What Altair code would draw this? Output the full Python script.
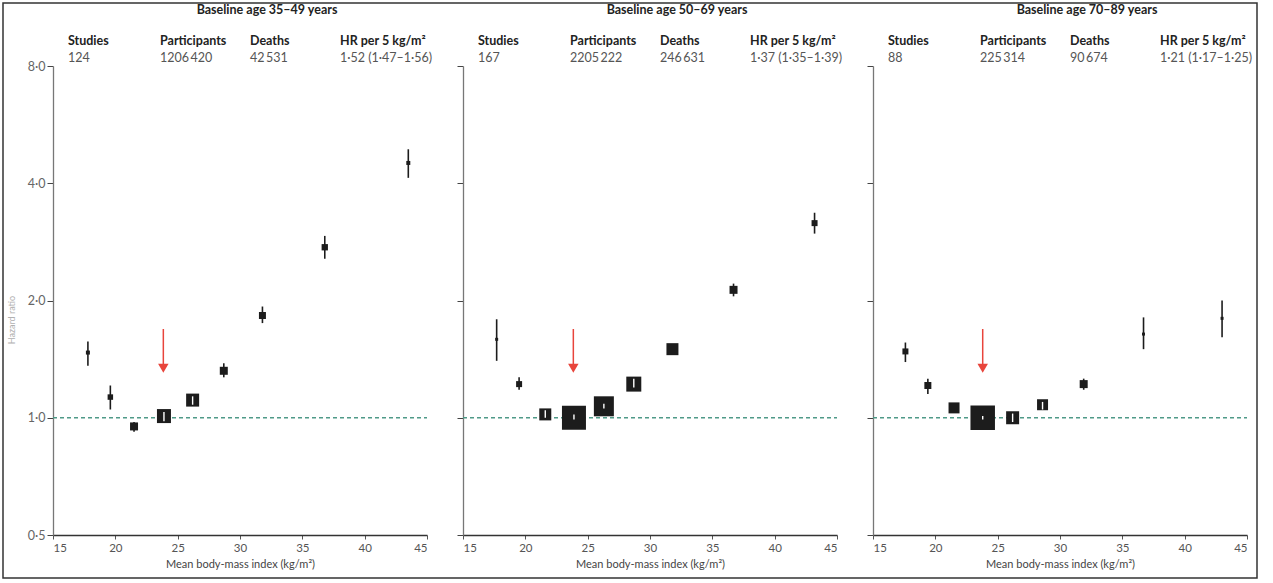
import altair as alt
import pandas as pd

# ---------------- data ----------------
titles = ["Baseline age 35\u201349 years", "Baseline age 50\u201369 years", "Baseline age 70\u201389 years"]
col_labels = ["Studies", "Participants", "Deaths", "HR per 5 kg/m\u00b2"]
studies = ["124", "167", "88"]
participants = ["1206\u2009420", "2205\u2009222", "225\u2009314"]
deaths = ["42\u2009531", "246\u2009631", "90\u2009674"]
hr_per5 = ["1\u00b752 (1\u00b747\u20131\u00b756)", "1\u00b737 (1\u00b735\u20131\u00b739)", "1\u00b721 (1\u00b717\u20131\u00b725)"]

bmi = [
    [17.8, 19.6, 21.5, 23.9, 26.2, 28.7, 31.8, 36.8, 43.5],
    [17.7, 19.5, 21.6, 23.9, 26.3, 28.7, 31.8, 36.7, 43.2],
    [17.6, 19.4, 21.5, 23.8, 26.2, 28.6, 31.9, 36.7, 43.0],
]
hr = [
    [1.47, 1.13, 0.95, 1.01, 1.11, 1.32, 1.83, 2.74, 4.51],
    [1.59, 1.22, 1.02, 1.00, 1.07, 1.22, 1.50, 2.13, 3.16],
    [1.48, 1.21, 1.06, 1.00, 1.00, 1.08, 1.22, 1.64, 1.80],
]
lo = [
    [1.36, 1.05, 0.92, 0.98, 1.08, 1.27, 1.75, 2.56, 4.13],
    [1.40, 1.18, 1.00, 0.99, 1.056, 1.195, 1.47, 2.05, 2.97],
    [1.39, 1.15, 1.04, 0.99, 0.975, 1.05, 1.18, 1.50, 1.61],
]
hi = [
    [1.57, 1.21, 0.975, 1.035, 1.135, 1.38, 1.93, 2.93, 4.89],
    [1.79, 1.27, 1.045, 1.02, 1.087, 1.26, 1.53, 2.21, 3.36],
    [1.56, 1.26, 1.08, 1.01, 1.025, 1.098, 1.26, 1.81, 2.00],
]
# relative statistical weight (drives square area)
weight = [
    [16, 30, 64, 196, 169, 64, 49, 40, 16],
    [9, 36, 144, 576, 400, 225, 144, 64, 36],
    [36, 49, 121, 600, 169, 121, 64, 9, 9],
]
# CI lies inside the square (drawn in white)
ci_inside = [
    [False, False, False, True, True, False, False, False, False],
    [False, False, True, True, True, True, False, False, False],
    [False, False, False, True, True, True, False, False, False],
]
arrow_bmi = [23.85, 23.85, 23.8]
arrow_top = [1.69, 1.69, 1.69]
arrow_head = [1.34, 1.34, 1.34]

# ---------------- style ----------------
W, H = 374, 469
FONT = "Lato"
RED = "#e8453c"
INK = "#1c1c1c"
col_x = [15, 107, 197, 287]

xscale = alt.Scale(domain=[15, 45], nice=False, zero=False)
yscale = alt.Scale(type="log", domain=[0.5, 8], nice=False)


def txt(s, x, y, bold=False, color="#222", size=12.5, align="left", angle=0):
    return alt.Chart(pd.DataFrame({"t": [s]})).mark_text(
        align=align, baseline="middle", fontSize=size,
        fontWeight="bold" if bold else "normal", color=color, font=FONT, angle=angle,
    ).encode(x=alt.value(x), y=alt.value(y), text="t:N")


def panel(i):
    df = pd.DataFrame({
        "bmi": bmi[i], "hr": hr[i], "lo": lo[i], "hi": hi[i],
        "w": weight[i], "inside": ci_inside[i],
    })
    xax = alt.Axis(values=[15, 20, 25, 30, 35, 40, 45], title="Mean body-mass index (kg/m\u00b2)",
                   grid=False, labelFontSize=11.5, labelColor="#555", labelFont=FONT,
                   titleFont=FONT, titleFontSize=11, titleFontWeight="normal", titleColor="#444",
                   titlePadding=5, tickSize=4, tickColor="#555", domainColor="#333",
                   domainWidth=1.6, labelPadding=3)
    yax = alt.Axis(values=[0.5, 1, 2, 4, 8], title=None, grid=False,
                   labels=(i == 0),
                   labelExpr="replace(format(datum.value, '.1f'), '.', '\u00b7')",
                   labelFontSize=12.5, labelColor="#666", labelFont=FONT,
                   tickSize=6, tickColor="#444", domainColor="#777", domainWidth=1.3,
                   labelPadding=2)

    base = alt.Chart(df)
    ref = alt.Chart(pd.DataFrame({"x": [15], "x2": [45], "y": [1.0]})).mark_rule(
        color="#4f9a88", strokeDash=[4, 3], strokeWidth=1.3
    ).encode(x=alt.X("x:Q", scale=xscale, axis=xax), x2="x2:Q",
             y=alt.Y("y:Q", scale=yscale, axis=yax))
    err = base.mark_rule(color=INK, strokeWidth=1.6).encode(
        x=alt.X("bmi:Q", scale=xscale), y=alt.Y("lo:Q", scale=yscale), y2="hi:Q")
    sq = base.mark_square(filled=True, color=INK, opacity=1, strokeWidth=0).encode(
        x=alt.X("bmi:Q", scale=xscale), y=alt.Y("hr:Q", scale=yscale),
        size=alt.Size("w:Q", scale=alt.Scale(domain=[0, 625], range=[0, 625]), legend=None))
    inner = base.transform_filter("datum.inside").mark_rule(color="white", strokeWidth=1.4).encode(
        x=alt.X("bmi:Q", scale=xscale), y=alt.Y("lo:Q", scale=yscale), y2="hi:Q")
    adf = pd.DataFrame({"x": [arrow_bmi[i]], "top": [arrow_top[i]], "head": [arrow_head[i]]})
    ashaft = alt.Chart(adf).mark_rule(color=RED, strokeWidth=1.5).encode(
        x=alt.X("x:Q", scale=xscale), y=alt.Y("top:Q", scale=yscale), y2="head:Q")
    ahead = alt.Chart(adf).mark_point(shape="triangle-down", filled=True, color=RED,
                                      size=110, opacity=1).encode(
        x=alt.X("x:Q", scale=xscale), y=alt.Y("head:Q", scale=yscale))

    layers = [ref, err, sq, inner, ashaft, ahead]
    layers.append(txt(titles[i], 214, -56, bold=True, align="center"))
    vals = [studies[i], participants[i], deaths[i], hr_per5[i]]
    for cx, lab, v in zip(col_x, col_labels, vals):
        layers.append(txt(lab, cx, -25, bold=True))
        layers.append(txt(v, cx, -8, color="#555"))
    if i == 0:
        layers.append(txt("Hazard ratio", -41, 254, color="#b0b0b0", size=9,
                          align="center", angle=270))
        border = alt.Chart(pd.DataFrame({"a": [0]})).mark_rect(
            fill=None, stroke="#333", strokeWidth=1.5, filled=False
        ).encode(x=alt.value(-50), x2=alt.value(1204), y=alt.value(-63), y2=alt.value(512))
        layers.append(border)
    return alt.layer(*layers).properties(width=W, height=H)


chart = alt.hconcat(panel(0), panel(1), panel(2), spacing=36, bounds="flush").properties(
    padding={"left": 2, "top": 2, "right": 2, "bottom": 2},
    background="white",
).configure_view(stroke=None, strokeWidth=0)

chart.save("out.html", embed_options={"renderer": "svg", "actions": False})
